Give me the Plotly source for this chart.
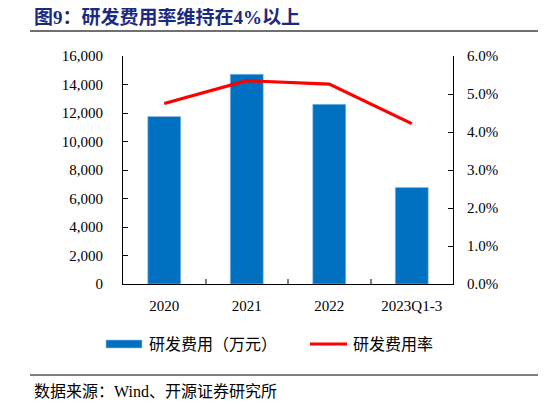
import plotly.graph_objects as go

categories = ["2020", "2021", "2022", "2023Q1-3"]
rd_expense = [11750, 14720, 12610, 6780]          # 万元
rd_rate = [0.0475, 0.0535, 0.0526, 0.0422]        # ratio

OFF = 8  # page body margin offset
W, H = 546 - OFF, 405 - OFF
L, R, T, B = 123, 453, 56, 284  # plot area in window pixels

def px(x):
    return (x - L) / (R - L)

def py(y):
    return (B - y) / (B - T)

serif = "Liberation Serif, Times New Roman, serif"
cjk = "Liberation Serif, Noto Sans CJK SC, serif"

fig = go.Figure()
fig.add_trace(go.Bar(
    x=categories, y=rd_expense, name="研发费用（万元）",
    marker=dict(color="#0070C0", line=dict(color="#9DC3E6", width=0.6)),
    yaxis="y", showlegend=False,
))
fig.add_trace(go.Scatter(
    x=categories, y=rd_rate, name="研发费用率", mode="lines",
    line=dict(color="#FF0000", width=3.2), yaxis="y2", showlegend=False,
))

fig.update_layout(
    width=W, height=H,
    margin=dict(l=L - OFF, r=546 - R, t=T - OFF, b=405 - B, pad=0),
    paper_bgcolor="white", plot_bgcolor="white",
    bargap=0.6,
    font=dict(family=serif, size=15, color="black"),
    xaxis=dict(
        type="category", showline=True, linecolor="black", linewidth=1.2,
        ticks="inside", tickson="boundaries", ticklen=5, tickcolor="#7f7f7f",
        tickwidth=1.5, showgrid=False, tickfont=dict(family=serif, size=15),
        ticklabelstandoff=8,
    ),
    yaxis=dict(
        range=[0, 16000], dtick=2000, tickformat=",", showline=True,
        linecolor="black", linewidth=1.2, ticks="inside", ticklen=5,
        tickcolor="black", showgrid=False, zeroline=False,
        tickfont=dict(family=serif, size=15), ticklabelstandoff=16,
    ),
    yaxis2=dict(
        range=[0, 0.06], dtick=0.01, tickformat=".1%", overlaying="y",
        side="right", showline=True, linecolor="black", linewidth=1.2,
        ticks="inside", ticklen=5, tickcolor="black", showgrid=False,
        zeroline=False, tickfont=dict(family=serif, size=15),
        ticklabelstandoff=10,
    ),
)

shapes = [
    dict(type="line", xref="paper", yref="paper", x0=px(30), x1=px(546),
         y0=py(31), y1=py(31), line=dict(color="#404040", width=1.5)),
    dict(type="line", xref="paper", yref="paper", x0=px(30), x1=px(546),
         y0=py(375), y1=py(375), line=dict(color="black", width=1)),
    dict(type="rect", xref="paper", yref="paper", x0=px(106), x1=px(142),
         y0=py(348), y1=py(340), fillcolor="#0070C0",
         line=dict(color="#9DC3E6", width=0.6)),
    dict(type="line", xref="paper", yref="paper", x0=px(310), x1=px(347),
         y0=py(344), y1=py(344), line=dict(color="#FF0000", width=3.2)),
]

annotations = [
    dict(text="<b>图9：研发费用率维持在4%以上</b>", xref="paper", yref="paper",
         x=px(32), y=py(17), xanchor="left", yanchor="middle", showarrow=False,
         font=dict(family=cjk, size=19, color="#1B2A80")),
    dict(text="研发费用（万元）", xref="paper", yref="paper",
         x=px(147), y=py(344), xanchor="left", yanchor="middle", showarrow=False,
         font=dict(family=cjk, size=16, color="black")),
    dict(text="研发费用率", xref="paper", yref="paper",
         x=px(351), y=py(344), xanchor="left", yanchor="middle", showarrow=False,
         font=dict(family=cjk, size=16, color="black")),
    dict(text="数据来源：Wind、开源证券研究所", xref="paper", yref="paper",
         x=px(32), y=py(391), xanchor="left", yanchor="middle", showarrow=False,
         font=dict(family=cjk, size=16, color="black")),
]

fig.update_layout(shapes=shapes, annotations=annotations)
fig.write_html("out.html")
